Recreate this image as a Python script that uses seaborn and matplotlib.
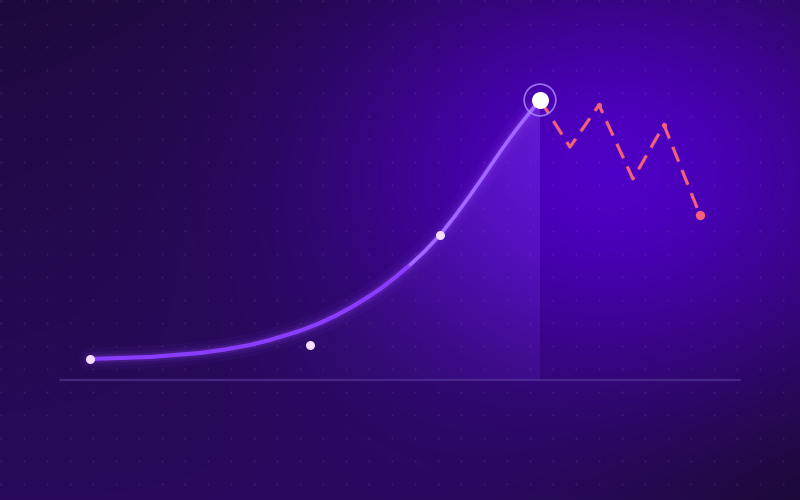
import numpy as np
import pandas as pd
import seaborn as sns
import matplotlib.pyplot as plt

curve_x = [3, 6, 9, 11.5, 14, 16.5, 19, 21, 23, 24.5, 26, 27.5, 29, 30.5,
           32, 33.5, 35, 36.5, 38, 39.5, 41, 42.5, 44, 45, 46, 47, 48]
curve_y = [7.5, 7.86, 8.21, 8.93, 9.64, 10.89, 12.5, 14.29, 16.43, 18.21, 20.36, 22.86, 25.71, 28.93,
           32.5, 36.61, 41.07, 46.07, 51.79, 58.57, 65.89, 73.57, 81.43, 86.43, 91.18, 95.64, 100]

# observed points
obs_x = [3, 25, 38]
obs_y = [7.5, 12.5, 51.8]
peak_x = [48]
peak_y = [100]

# forecast (dashed)
fc_x = [48, 51, 53.9, 57.3, 60.4, 64]
fc_y = [100, 83.2, 98.2, 71.8, 91.1, 58.9]

base_start, base_end = 0, 68

XMIN, XMAX = -6, 74
YMIN, YMAX = -42.86, 135.71

sns.set_theme(style="white")
fig = plt.figure(figsize=(8, 5), dpi=100)
ax = fig.add_axes([0, 0, 1, 1])
ax.set_xlim(XMIN, XMAX)
ax.set_ylim(YMIN, YMAX)
ax.axis("off")

# background gradient
H, W = 500, 800
yy, xx = np.mgrid[0:H, 0:W].astype(float)
ty = (yy / H)[..., None]
top = np.array([30, 10, 62]) / 255
bot = np.array([40, 10, 92]) / 255
bg = top * (1 - ty) + bot * ty
d = np.exp(-(((xx - 830) / 260) ** 2 + ((yy - 520) / 210) ** 2))[..., None]
bg = bg * (1 - 0.7 * d) + np.array([20, 10, 30]) / 255 * 0.7 * d
g = np.exp(-(((xx - 610) / 280) ** 2 + ((yy - 170) / 215) ** 2))[..., None]
bg = bg * (1 - g) + np.array([78, 0, 196]) / 255 * g
ax.imshow(bg, extent=[XMIN, XMAX, YMIN, YMAX], aspect="auto", zorder=0, origin="upper")

# faint dot grid
gx = np.arange(0.67, 800, 23)
gy = np.arange(0.67, 500, 23)
GX, GY = np.meshgrid(gx, gy)
ax.scatter(XMIN + GX.ravel() / 800 * (XMAX - XMIN), YMAX - GY.ravel() / 500 * (YMAX - YMIN),
           s=2.5, color="#9b7fd0", alpha=0.16, linewidths=0, zorder=1)

# baseline
ax.plot([base_start, base_end], [0, 0], color="#5a3a9a", lw=1.6, alpha=0.6, zorder=2)

# gradient fill under the curve
cx = np.array(curve_x)
cy = np.array(curve_y)
poly = ax.fill_between(cx, cy, 0, color="none", zorder=2)
fy, fx = np.mgrid[0:200, 0:200].astype(float)
ax_x = fx / 199
ax_y = fy / 199
alpha = np.clip((ax_x - 0.2) / 0.8, 0, 1) ** 1.3 * (0.3 + 0.7 * (1 - ax_y) ** 1.2)
fill_img = np.zeros((200, 200, 4))
fill_img[..., :3] = np.array([125, 55, 240]) / 255
fill_img[..., 3] = 0.5 * alpha
im = ax.imshow(fill_img, extent=[cx.min(), cx.max(), 0, cy.max()], aspect="auto",
               origin="upper", zorder=2)
im.set_clip_path(poly.get_paths()[0], transform=ax.transData)

# glow behind the line
df_curve = pd.DataFrame({"x": curve_x, "y": curve_y})
for w, a in [(16, 0.05), (10, 0.08), (6, 0.15)]:
    sns.lineplot(data=df_curve, x="x", y="y", ax=ax, color="#9a4dff", lw=w, alpha=a,
                 sort=False, zorder=3, solid_capstyle="round", solid_joinstyle="round")
sns.lineplot(data=df_curve, x="x", y="y", ax=ax, color="#8a3cff", lw=3, sort=False,
             zorder=4, solid_capstyle="round", solid_joinstyle="round")
# lighter upper part of the line
up = df_curve[df_curve.x >= 35]
sns.lineplot(data=up, x="x", y="y", ax=ax, color="#a878ff", lw=2.2, alpha=0.8, sort=False,
             zorder=4, solid_capstyle="round", solid_joinstyle="round")

# forecast dashed line
df_fc = pd.DataFrame({"x": fc_x, "y": fc_y})
sns.lineplot(data=df_fc, x="x", y="y", ax=ax, color="#f2607a", lw=2.3, sort=False,
             zorder=5, linestyle=(0, (5, 2.8)))
sns.scatterplot(x=fc_x[2:5:2], y=fc_y[2:5:2], ax=ax, color="#f2607a", s=14, linewidth=0, zorder=5)
sns.scatterplot(x=fc_x[-1:], y=fc_y[-1:], ax=ax, color="#f2607a", s=45, linewidth=0, zorder=6)

# observed points
sns.scatterplot(x=obs_x, y=obs_y, ax=ax, color="#f3dcff", s=42, linewidth=0, zorder=6)
# peak
sns.scatterplot(x=peak_x, y=peak_y, ax=ax, color="none", edgecolor="#b28cff", s=520,
                linewidth=1.2, alpha=0.8, zorder=6)
sns.scatterplot(x=peak_x, y=peak_y, ax=ax, color="#ffffff", s=150, linewidth=0, zorder=7)

ax.legend_ = None
fig.savefig("out.png", dpi=100)
